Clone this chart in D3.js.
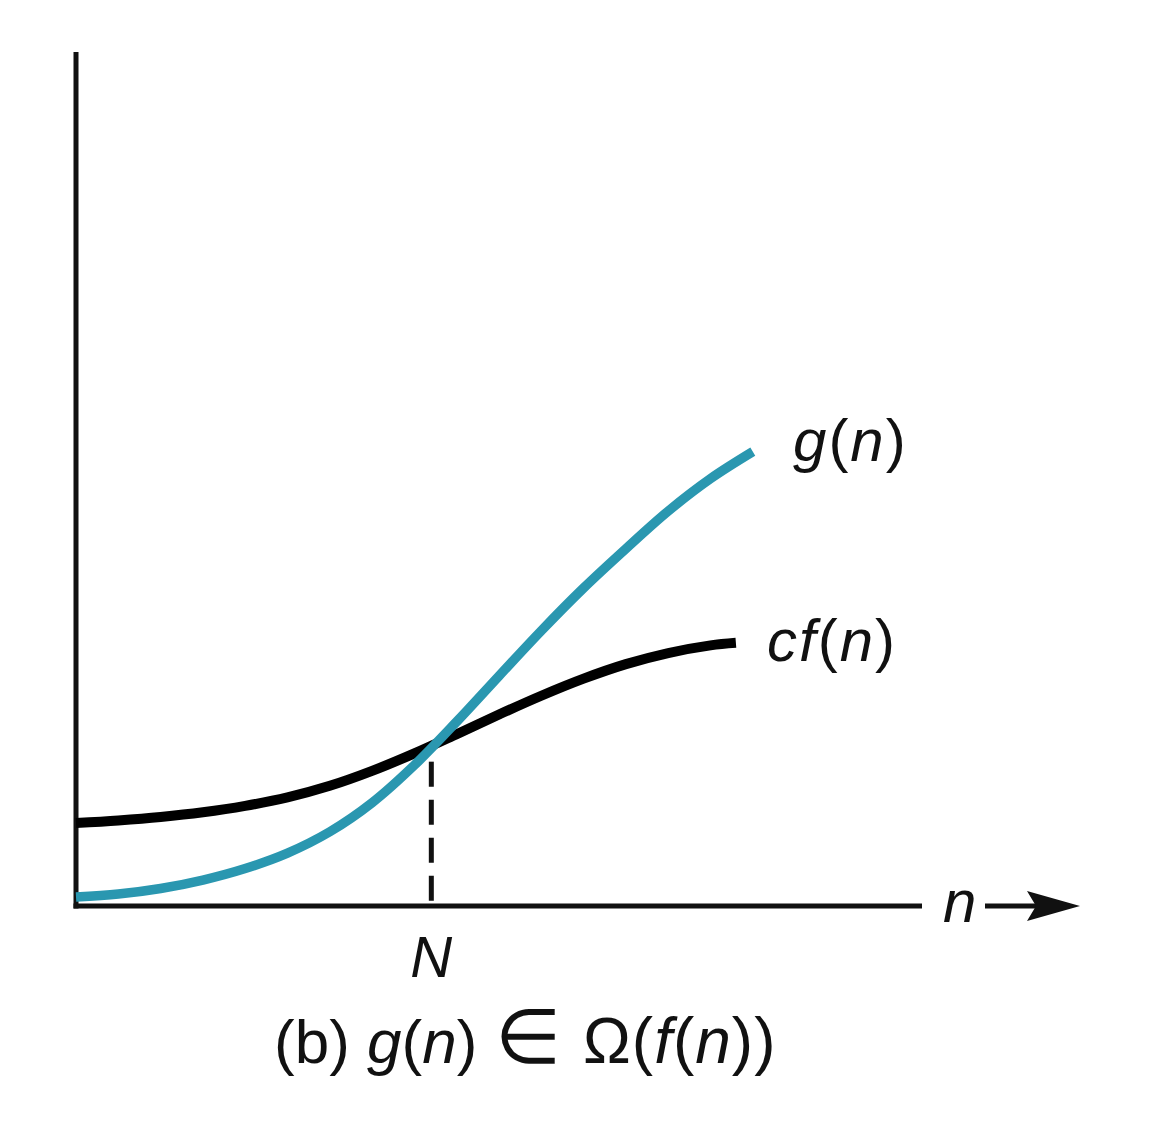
<!DOCTYPE html>
<html>
<head>
<meta charset="utf-8">
<script src="https://cdn.jsdelivr.net/npm/d3@7"></script>
<style>
  html, body { margin: 0; padding: 0; background: #ffffff; }
  svg { display: block; }
  text { font-family: "Liberation Sans", Arial, Helvetica, sans-serif; fill: #111; }
</style>
</head>
<body>
<svg id="chart" width="1152" height="1122"></svg>
<script>
// ---- data (abstract units: n on 0..100, value on 0..100) ----
const nValues   = [0, 5, 10, 15, 20, 25, 30, 35, 40, 45, 50, 55, 60, 65, 70, 75, 80];
const gValues   = [1.05, 1.4, 2.05, 3.04, 4.39, 6.19, 8.69, 12.09, 16.49, 21.59, 26.94, 32.24, 37.24, 41.84, 46.24, 50.04, 53.2];
const cfN       = [0, 5, 10, 15, 20, 25, 30, 35, 40, 45, 50, 55, 60, 65, 70, 75, 78];
const cfValues  = [9.72, 10.02, 10.42, 10.97, 11.72, 12.72, 14.07, 15.82, 17.87, 20.12, 22.42, 24.62, 26.62, 28.32, 29.62, 30.52, 30.82];
const crossN    = 42;          // N
const crossVal  = 16.9;        // where the dashed line starts (just below the crossing)
const seriesLabels = ["g(n)", "cf(n)"];

const svg = d3.select("#chart");
const x = d3.scaleLinear().domain([0, 100]).range([76, 922]);
const y = d3.scaleLinear().domain([0, 100]).range([906, 52]);

// axes
svg.append("line").attr("x1", x(0)).attr("x2", x(0)).attr("y1", y(100)).attr("y2", y(0) + 2.5)
  .attr("stroke", "#111").attr("stroke-width", 5);
svg.append("line").attr("x1", x(0) - 2.5).attr("x2", x(100)).attr("y1", y(0)).attr("y2", y(0))
  .attr("stroke", "#111").attr("stroke-width", 5);

// dashed line at N
svg.append("line").attr("x1", x(crossN)).attr("x2", x(crossN)).attr("y1", y(crossVal)).attr("y2", y(0))
  .attr("stroke", "#111").attr("stroke-width", 5).attr("stroke-dasharray", "25,13");

const line = d3.line().curve(d3.curveCatmullRom.alpha(0.5));

// cf(n)
svg.append("path")
  .attr("d", line(cfN.map((n, i) => [x(n), y(cfValues[i])])))
  .attr("fill", "none").attr("stroke", "#000").attr("stroke-width", 10);

// g(n)
svg.append("path")
  .attr("d", line(nValues.map((n, i) => [x(n), y(gValues[i])])))
  .attr("fill", "none").attr("stroke", "#2a97b0").attr("stroke-width", 9.5);

// labels
function mathText(parent, xx, yy, parts, size, anchor, spacing) {
  const t = parent.append("text").attr("x", xx).attr("y", yy)
    .attr("font-size", size).attr("text-anchor", anchor || "start")
    .attr("letter-spacing", spacing || 0);
  parts.forEach(p => {
    const s = t.append("tspan").text(p[0]).attr("font-style", p[1] ? "italic" : "normal");
    if (p[2]) s.attr("font-size", p[2]);
  });
  return t;
}
mathText(svg, 793, 461, [["g", 1], ["(", 0], ["n", 1], [")", 0]], 60, "start", 2);
mathText(svg, 767, 661, [["cf", 1], ["(", 0], ["n", 1], [")", 0]], 60, "start", 2);
mathText(svg, x(crossN), 977, [["N", 1]], 58, "middle");
mathText(svg, 943, 922, [["n", 1]], 60);

// arrow after n
svg.append("line").attr("x1", 985).attr("x2", 1036).attr("y1", y(0)).attr("y2", y(0))
  .attr("stroke", "#111").attr("stroke-width", 5);
svg.append("path")
  .attr("d", `M1080,${y(0)} L1027,${y(0) - 15} L1036,${y(0)} L1027,${y(0) + 15} Z`)
  .attr("fill", "#111");

// caption
mathText(svg, 274, 1063, [["(b) ", 0], ["g", 1], ["(", 0], ["n", 1], [")", 0]], 62, "start", 0);
mathText(svg, 495, 1063, [["\u2208", 0]], 76);
mathText(svg, 583, 1063, [["\u03A9(", 0], ["f", 1], ["(", 0], ["n", 1], ["))", 0]], 64, "start", 1);
</script>
</body>
</html>
